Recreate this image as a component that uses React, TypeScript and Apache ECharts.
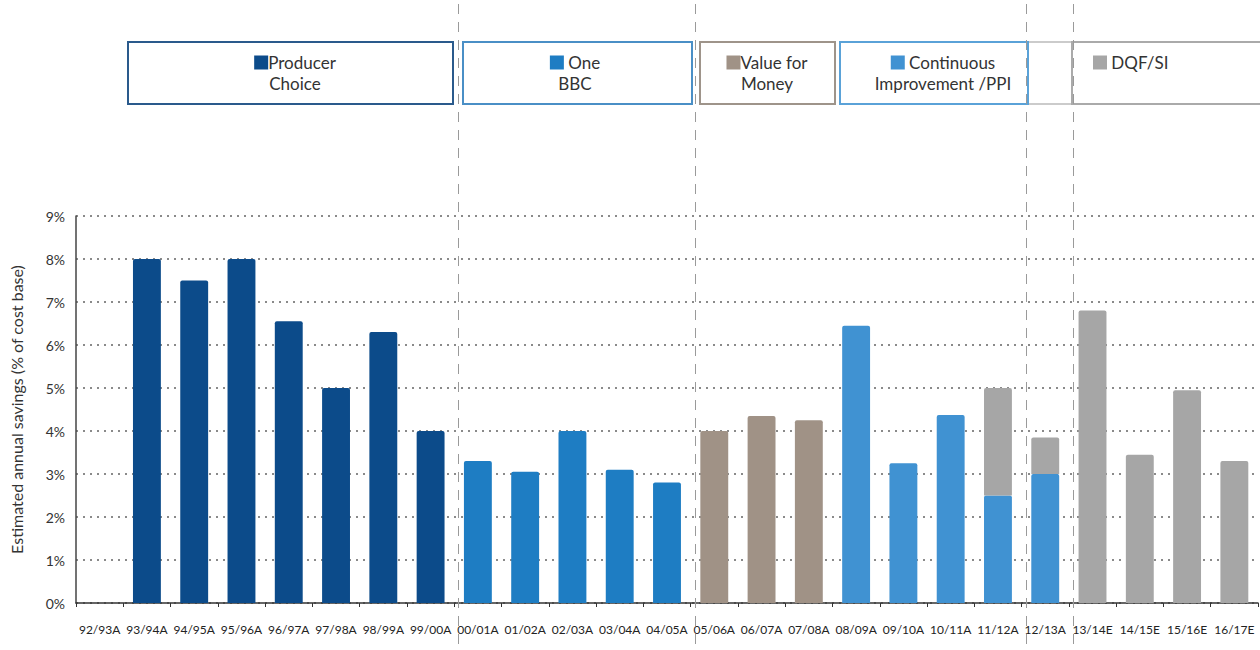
import React, { useEffect, useRef } from "react";
import * as echarts from "echarts";

const categories = [
  "92/93A", "93/94A", "94/95A", "95/96A", "96/97A", "97/98A", "98/99A", "99/00A",
  "00/01A", "01/02A", "02/03A", "03/04A", "04/05A",
  "05/06A", "06/07A", "07/08A",
  "08/09A", "09/10A", "10/11A", "11/12A", "12/13A",
  "13/14E", "14/15E", "15/16E", "16/17E",
];

const N = null;
const producerChoice = [N, 8.0, 7.5, 8.0, 6.55, 5.0, 6.3, 4.0, N, N, N, N, N, N, N, N, N, N, N, N, N, N, N, N, N];
const oneBBC = [N, N, N, N, N, N, N, N, 3.3, 3.05, 4.0, 3.1, 2.8, N, N, N, N, N, N, N, N, N, N, N, N];
const valueForMoney = [N, N, N, N, N, N, N, N, N, N, N, N, N, 4.0, 4.35, 4.25, N, N, N, N, N, N, N, N, N];
const continuousImprovement = [N, N, N, N, N, N, N, N, N, N, N, N, N, N, N, N, 6.45, 3.25, 4.37, 2.5, 3.0, N, N, N, N];
const dqfSi = [N, N, N, N, N, N, N, N, N, N, N, N, N, N, N, N, N, N, N, 2.5, 0.85, 6.8, 3.45, 4.95, 3.3];

const yTicks = [0, 1, 2, 3, 4, 5, 6, 7, 8, 9];
const dividerIndices = [8, 13, 20, 21];

const phaseNames = ["Producer", "One", "Value for", "Continuous", "DQF/SI"];
const phaseSecondLines = ["Choice", "BBC", "Money", "Improvement /PPI", ""];

const COLORS = {
  producer: "#0C4B8A",
  one: "#1E7DC3",
  vfm: "#A09286",
  ci: "#4092D2",
  dqf: "#A6A6A6",
};

const FONT = "Lato, 'Open Sans', sans-serif";

export default function App() {
  const ref = useRef<HTMLDivElement>(null);

  useEffect(() => {
    if (!ref.current) return;
    const chart = echarts.init(ref.current, null, { renderer: "svg" });

    const barSeries = (name: string, data: (number | null)[], color: string, radius: number[]) => ({
      name,
      type: "bar",
      stack: "total",
      data,
      barWidth: "59%",
      itemStyle: { color, borderRadius: radius },
    });

    const boxes = [
      { x: 128, w: 325, stroke: "#2A5A8C", color: COLORS.producer, align: "center", tx: 295, sep: "" },
      { x: 463, w: 229, stroke: "#4A8FC6", color: COLORS.one, align: "center", tx: 575, sep: " " },
      { x: 700, w: 135, stroke: "#9E948A", color: COLORS.vfm, align: "center", tx: 767, sep: "" },
      { x: 840, w: 188, stroke: "#5AA2D8", color: COLORS.ci, align: "center", tx: 943, sep: " " },
      { x: 1072, w: 200, stroke: "#AAAAAA", color: COLORS.dqf, align: "left", tx: 1093, sep: " " },
    ];

    const legendGraphics: any[] = [];
    legendGraphics.push({
      type: "rect",
      shape: { x: 1028, y: 42, width: 44, height: 62 },
      style: { fill: "#fff", stroke: "#BBBBBB", lineWidth: 1.5 },
      z: 10,
    });
    boxes.forEach((b, i) => {
      legendGraphics.push({
        type: "rect",
        shape: { x: b.x, y: 42, width: b.w, height: 62 },
        style: { fill: "#fff", stroke: b.stroke, lineWidth: 2 },
        z: 10,
      });
      const second = phaseSecondLines[i];
      legendGraphics.push({
        type: "text",
        x: b.tx,
        y: 52,
        z: 11,
        style: {
          text: "{m|}" + b.sep + phaseNames[i] + (second ? "\n" + second : ""),
          fill: "#333",
          fontSize: 17,
          fontFamily: FONT,
          align: b.align,
          verticalAlign: "top",
          lineHeight: 21,
          rich: {
            m: { width: 14, height: 14, backgroundColor: b.color },
          },
        },
      });
    });

    chart.setOption({
      animation: false,
      backgroundColor: "#ffffff",
      textStyle: { fontFamily: FONT },
      grid: { left: 73, right: 2, top: 216, bottom: 47, containLabel: false },
      xAxis: {
        type: "category",
        data: categories,
        axisLine: { show: true, lineStyle: { color: "#333", width: 1.5 } },
        axisTick: { show: true, length: 4, lineStyle: { color: "#333" }, alignWithLabel: false },
        axisLabel: { interval: 0, color: "#222", fontSize: 12, margin: 20, fontFamily: FONT },
      },
      yAxis: {
        type: "value",
        min: 0,
        max: yTicks[yTicks.length - 1],
        interval: 1,
        name: "Estimated annual savings (% of cost base)",
        nameLocation: "middle",
        nameRotate: 90,
        nameGap: 52,
        nameTextStyle: { color: "#333", fontSize: 16, fontFamily: FONT },
        axisLine: { show: true, lineStyle: { color: "#444", width: 1.5 } },
        axisTick: { show: false },
        axisLabel: { color: "#333", fontSize: 14, margin: 11, formatter: (v: number) => `${v}%`, fontFamily: FONT },
        splitLine: { show: true, lineStyle: { color: "#8a8a8a", width: 2, type: [2, 5] } },
      },
      series: [
        barSeries("Producer Choice", producerChoice, COLORS.producer, [2, 2, 0, 0]),
        barSeries("One BBC", oneBBC, COLORS.one, [2, 2, 0, 0]),
        barSeries("Value for Money", valueForMoney, COLORS.vfm, [2, 2, 0, 0]),
        barSeries("Continuous Improvement /PPI", continuousImprovement, COLORS.ci, [2, 2, 0, 0]),
        barSeries("DQF/SI", dqfSi, COLORS.dqf, [2, 2, 0, 0]),
      ],
      graphic: legendGraphics,
    });

    const c0 = chart.convertToPixel({ xAxisIndex: 0 }, categories[0]) as number;
    const c1 = chart.convertToPixel({ xAxisIndex: 0 }, categories[1]) as number;
    const bw = c1 - c0;
    const dividers = dividerIndices.map((k) => {
      const x = Math.round(c0 - bw / 2 + k * bw + 4) + 0.5;
      return {
        type: "line",
        shape: { x1: x, y1: 4, x2: x, y2: 650 },
        style: { stroke: "#9a9a9a", lineWidth: 1, lineDash: [10, 8] },
        z: 20,
      };
    });
    chart.setOption({ graphic: [...legendGraphics, ...dividers] });

    return () => chart.dispose();
  }, []);

  return (
    <div
      ref={ref}
      style={{ position: "absolute", left: 0, top: 0, width: 1260, height: 650 }}
    />
  );
}
